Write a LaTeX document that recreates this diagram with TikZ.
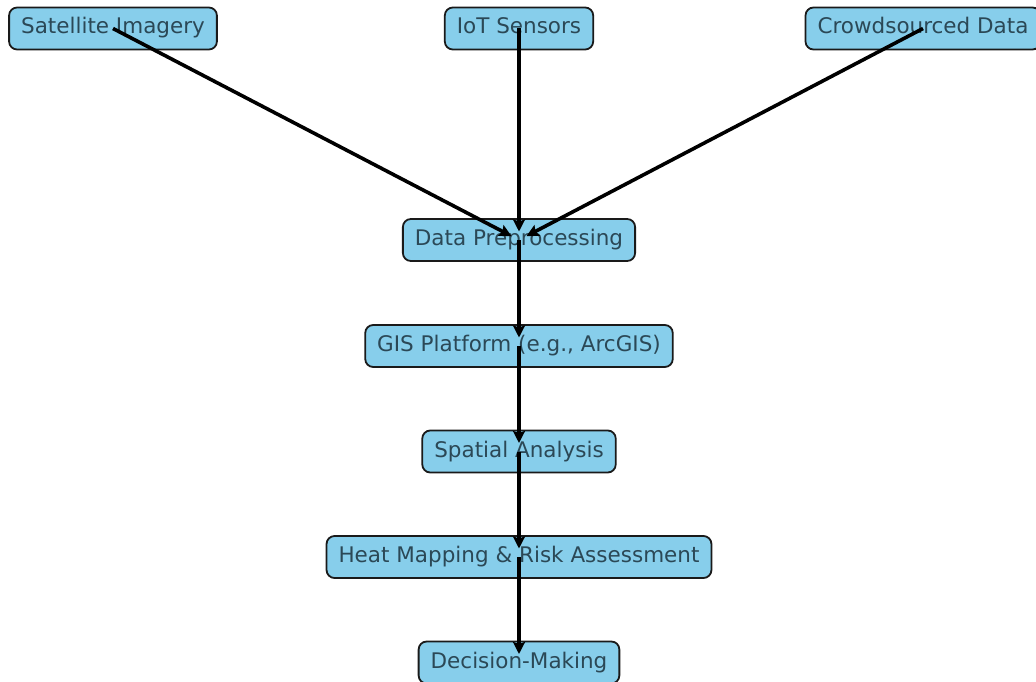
\documentclass[tikz,border=0pt]{standalone}
\usepackage{fontspec}
\setmainfont{DejaVu Sans}
\usetikzlibrary{arrows.meta}
\definecolor{boxfill}{HTML}{87CEEB}
\definecolor{boxtext}{HTML}{2B4856}
\definecolor{boxline}{HTML}{1A1A1A}
\tikzset{
  procbox/.style={draw=boxline, line width=1.8pt, fill=boxfill, rounded corners=8pt,
    text=boxtext, font=\fontsize{21.5}{24}\selectfont,
    text height=16pt, text depth=5pt, inner xsep=12pt, inner ysep=10.5pt},
  flow/.style={line width=3.6pt, black, shorten >=8.5pt,
    -{Stealth[length=12pt,width=12pt,inset=2pt]}}
}
\begin{document}
\begin{tikzpicture}[x=1pt,y=-1pt]
\useasboundingbox (0,0) rectangle (1036,682);
\clip (0,0) rectangle (1036,682);
\node[procbox] (sat) at (113,28.5) {Satellite Imagery};
\node[procbox] (iot) at (519,28.5) {IoT Sensors};
\node[procbox] (crowd) at (923,28.5) {Crowdsourced Data};
\node[procbox] (pre) at (519,240) {Data Preprocessing};
\node[procbox] (gis) at (519,346) {GIS Platform (e.g., ArcGIS)};
\node[procbox] (spa) at (519,451.5) {Spatial Analysis};
\node[procbox] (heat) at (519,557) {Heat Mapping \& Risk Assessment};
\node[procbox] (dec) at (519,662.5) {Decision-Making};
\draw[flow] (sat.center) -- (pre.center);
\draw[flow] (iot.center) -- (pre.center);
\draw[flow] (crowd.center) -- (pre.center);
\draw[flow] (pre.center) -- (gis.center);
\draw[flow] (gis.center) -- (spa.center);
\draw[flow] (spa.center) -- (heat.center);
\draw[flow] (heat.center) -- (dec.center);
\end{tikzpicture}
\end{document}
